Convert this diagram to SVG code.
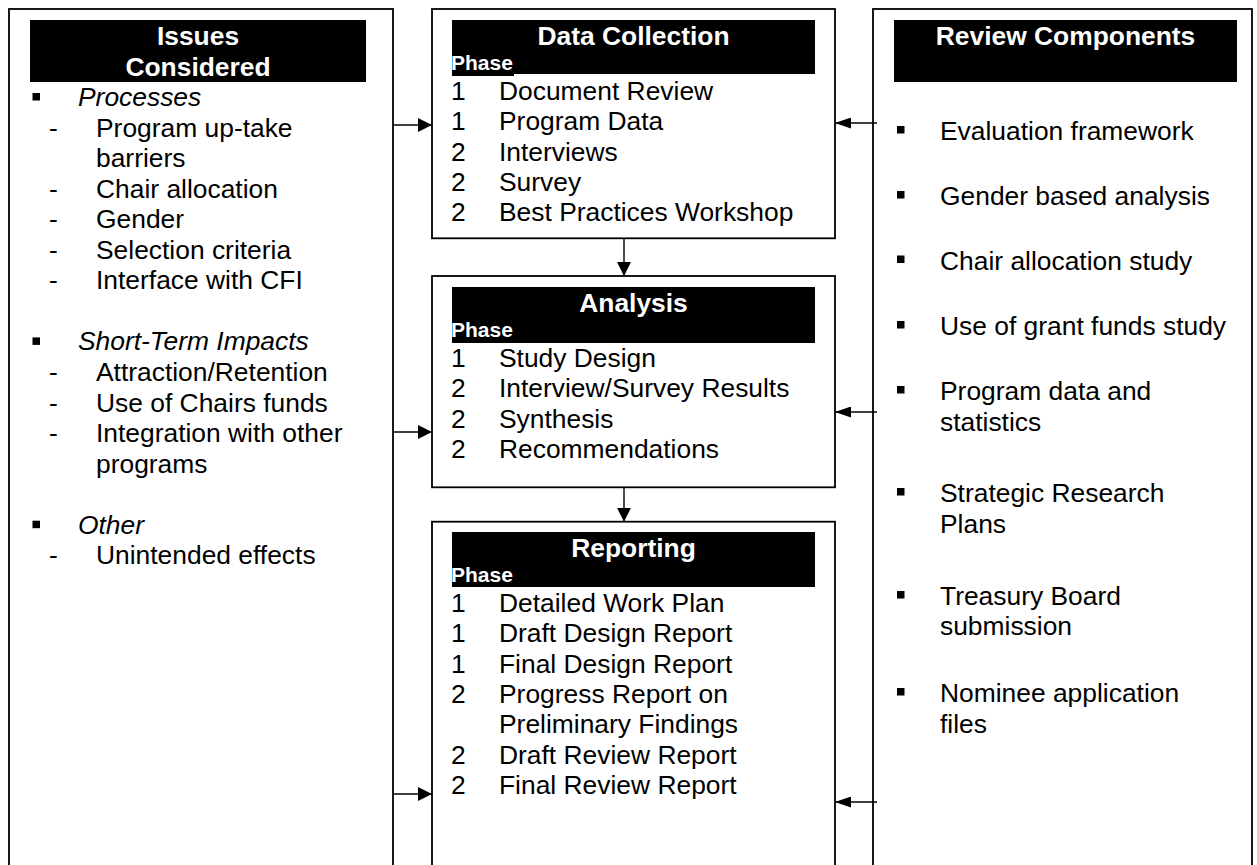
<svg xmlns="http://www.w3.org/2000/svg" width="1257" height="865" viewBox="0 0 1257 865">
<style>
  text { font-family: "Liberation Sans", Arial, sans-serif; font-size: 26.4px; fill: #000; }
  .frame { fill: #fff; stroke: #000; stroke-width: 1.8; }
  .bar { fill: #000; }
  .title { font-weight: bold; fill: #fff; text-anchor: middle; }
  .phase { font-weight: bold; fill: #fff; font-size: 21px; }
  .it { font-style: italic; }
  .conn { stroke: #000; stroke-width: 1.4; fill: none; }
</style>
<defs>
  <marker id="head" markerUnits="userSpaceOnUse" markerWidth="14" markerHeight="14" refX="14" refY="7" orient="auto">
    <path d="M0,0 L14,7 L0,14 Z" fill="#000"/>
  </marker>
  <marker id="headSlim" markerUnits="userSpaceOnUse" markerWidth="16" markerHeight="11" refX="16" refY="5.5" orient="auto">
    <path d="M0,0 L16,5.5 L0,11 Z" fill="#000"/>
  </marker>
  <rect id="sq" width="7.5" height="7.5" fill="#000"/>
</defs>
<rect width="1257" height="865" fill="#fff"/>

<g id="issues">
  <rect class="frame" x="9" y="9" width="384" height="900"/>
  <rect class="bar" x="30" y="20" width="336" height="62"/>
  <text class="title" x="198" y="45">Issues</text>
  <text class="title" x="198" y="75.5">Considered</text>
  <use href="#sq" x="32.5" y="93"/>
  <text class="it" x="78" y="106">Processes</text>
  <text x="49" y="136.6">-</text><text x="96" y="136.6">Program up-take</text>
  <text x="96" y="167.1">barriers</text>
  <text x="49" y="197.7">-</text><text x="96" y="197.7">Chair allocation</text>
  <text x="49" y="228.2">-</text><text x="96" y="228.2">Gender</text>
  <text x="49" y="258.8">-</text><text x="96" y="258.8">Selection criteria</text>
  <text x="49" y="289.3">-</text><text x="96" y="289.3">Interface with CFI</text>
  <use href="#sq" x="32.5" y="337.4"/>
  <text class="it" x="78" y="350.4">Short-Term Impacts</text>
  <text x="49" y="381">-</text><text x="96" y="381">Attraction/Retention</text>
  <text x="49" y="411.5">-</text><text x="96" y="411.5">Use of Chairs funds</text>
  <text x="49" y="442.1">-</text><text x="96" y="442.1">Integration with other</text>
  <text x="96" y="472.6">programs</text>
  <use href="#sq" x="32.5" y="520.7"/>
  <text class="it" x="78" y="533.7">Other</text>
  <text x="49" y="564.3">-</text><text x="96" y="564.3">Unintended effects</text>
</g>

<g id="data-collection">
  <rect class="frame" x="432" y="9" width="403" height="229.3"/>
  <rect class="bar" x="452" y="20" width="363" height="54"/>
  <rect class="bar" x="452" y="60" width="62" height="16"/>
  <text class="title" x="633.5" y="45">Data Collection</text>
  <text class="phase" x="451" y="70">Phase</text>
  <text x="451" y="100">1</text><text x="499" y="100">Document Review</text>
  <text x="451" y="130.3">1</text><text x="499" y="130.3">Program Data</text>
  <text x="451" y="160.6">2</text><text x="499" y="160.6">Interviews</text>
  <text x="451" y="190.9">2</text><text x="499" y="190.9">Survey</text>
  <text x="451" y="221.2">2</text><text x="499" y="221.2">Best Practices Workshop</text>
</g>

<g id="analysis">
  <rect class="frame" x="432" y="276" width="403" height="211.3"/>
  <rect class="bar" x="452" y="287" width="363" height="56"/>
  <text class="title" x="633.5" y="312">Analysis</text>
  <text class="phase" x="451" y="337">Phase</text>
  <text x="451" y="367">1</text><text x="499" y="367">Study Design</text>
  <text x="451" y="397.3">2</text><text x="499" y="397.3">Interview/Survey Results</text>
  <text x="451" y="427.6">2</text><text x="499" y="427.6">Synthesis</text>
  <text x="451" y="457.9">2</text><text x="499" y="457.9">Recommendations</text>
</g>

<g id="reporting">
  <rect class="frame" x="432" y="521.7" width="403" height="400"/>
  <rect class="bar" x="452" y="532" width="363" height="55"/>
  <text class="title" x="633.5" y="557">Reporting</text>
  <text class="phase" x="451" y="582">Phase</text>
  <text x="451" y="612">1</text><text x="499" y="612">Detailed Work Plan</text>
  <text x="451" y="642.3">1</text><text x="499" y="642.3">Draft Design Report</text>
  <text x="451" y="672.6">1</text><text x="499" y="672.6">Final Design Report</text>
  <text x="451" y="702.9">2</text><text x="499" y="702.9">Progress Report on</text>
  <text x="499" y="733.2">Preliminary Findings</text>
  <text x="451" y="763.5">2</text><text x="499" y="763.5">Draft Review Report</text>
  <text x="451" y="793.8">2</text><text x="499" y="793.8">Final Review Report</text>
</g>

<g id="review-components">
  <rect class="frame" x="873" y="9" width="379" height="900"/>
  <rect class="bar" x="894" y="20" width="343" height="62"/>
  <text class="title" x="1065.5" y="45">Review Components</text>
  <use href="#sq" x="897" y="126"/>
  <text x="940" y="140">Evaluation framework</text>
  <use href="#sq" x="897" y="191"/>
  <text x="940" y="205">Gender based analysis</text>
  <use href="#sq" x="897" y="255.5"/>
  <text x="940" y="269.5">Chair allocation study</text>
  <use href="#sq" x="897" y="321"/>
  <text x="940" y="335">Use of grant funds study</text>
  <use href="#sq" x="897" y="386"/>
  <text x="940" y="400">Program data and</text>
  <text x="940" y="430.5">statistics</text>
  <use href="#sq" x="897" y="488"/>
  <text x="940" y="502">Strategic Research</text>
  <text x="940" y="532.5">Plans</text>
  <use href="#sq" x="897" y="591"/>
  <text x="940" y="605">Treasury Board</text>
  <text x="940" y="635">submission</text>
  <use href="#sq" x="897" y="688"/>
  <text x="940" y="702">Nominee application</text>
  <text x="940" y="732.5">files</text>
</g>

<g id="connectors">
  <line class="conn" x1="393" y1="125" x2="432" y2="125" marker-end="url(#head)"/>
  <line class="conn" x1="393" y1="432" x2="432" y2="432" marker-end="url(#head)"/>
  <line class="conn" x1="393" y1="794" x2="432" y2="794" marker-end="url(#head)"/>
  <line class="conn" x1="877" y1="123" x2="835" y2="123" marker-end="url(#headSlim)"/>
  <line class="conn" x1="877" y1="412" x2="835" y2="412" marker-end="url(#headSlim)"/>
  <line class="conn" x1="877" y1="802" x2="835" y2="802" marker-end="url(#headSlim)"/>
  <line class="conn" x1="624" y1="238.3" x2="624" y2="276" marker-end="url(#head)"/>
  <line class="conn" x1="624" y1="487.3" x2="624" y2="521.7" marker-end="url(#head)"/>
</g>
</svg>
